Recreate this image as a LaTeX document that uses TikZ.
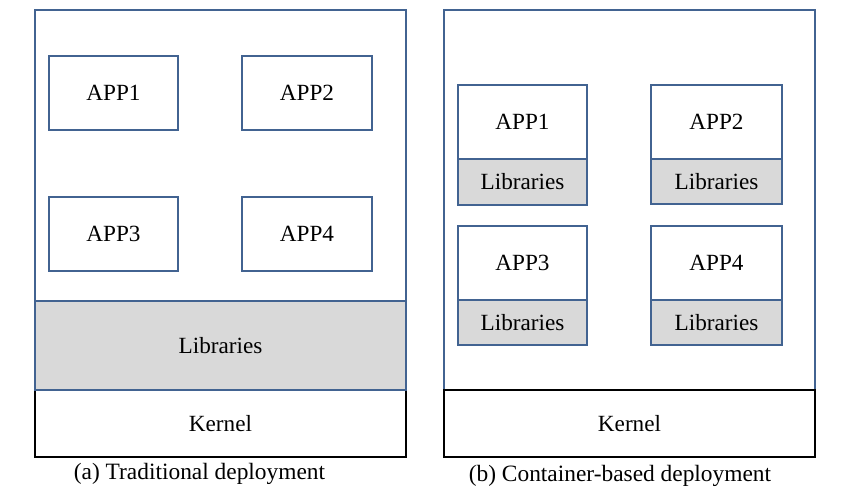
\documentclass[tikz,border=0pt]{standalone}
\usepackage{fontspec}
\setmainfont{Liberation Serif}
\definecolor{boxblue}{RGB}{66,99,145}
\definecolor{libgray}{RGB}{217,217,217}
\begin{document}
\begin{tikzpicture}[x=1pt,y=-1pt,
  outer/.style={draw=boxblue,line width=2.6pt,fill=white,inner sep=0pt},
  appbox/.style={draw=boxblue,line width=2.6pt,fill=white,inner sep=0pt,font=\fontsize{23.2}{25}\selectfont},
  libbox/.style={draw=boxblue,line width=2.6pt,fill=libgray,inner sep=0pt,font=\fontsize{23.2}{25}\selectfont},
  kernbox/.style={draw=black,line width=2.8pt,fill=white,inner sep=0pt,font=\fontsize{23.2}{25}\selectfont},
  caption/.style={inner sep=0pt,font=\fontsize{23.4}{25}\selectfont}]
\useasboundingbox (0,0) rectangle (850,498);
% ---------- (a) traditional ----------
\node[kernbox,minimum width=371pt,minimum height=67pt] (ka) at (220.5,423.5) {Kernel};
\node[outer,minimum width=371pt,minimum height=380pt] (oa) at (220.5,200) {};
\node[libbox,minimum width=371pt,minimum height=89pt] (la) at (220.5,345.5) {Libraries};
\node[appbox,minimum width=129pt,minimum height=74pt] (a1) at (113.5,93) {APP1};
\node[appbox,minimum width=130pt,minimum height=74pt] (a2) at (307,93) {APP2};
\node[appbox,minimum width=129pt,minimum height=74pt] (a3) at (113.5,234) {APP3};
\node[appbox,minimum width=130pt,minimum height=74pt] (a4) at (307,234) {APP4};
\node[caption] (capa) at (199.5,474) {(a) Traditional deployment};
% ---------- (b) container-based ----------
\node[outer,minimum width=371pt,minimum height=380pt] (ob) at (629.5,200) {};
\node[kernbox,minimum width=371pt,minimum height=67pt] (kb) at (629.5,423.5) {Kernel};
\node[appbox,minimum width=129pt,minimum height=74pt] (b1) at (522.5,122) {APP1};
\node[libbox,minimum width=129pt,minimum height=46pt] (l1) at (522.5,182) {Libraries};
\node[appbox,minimum width=131pt,minimum height=74pt] (b2) at (716.5,122) {APP2};
\node[libbox,minimum width=131pt,minimum height=45pt] (l2) at (716.5,181.5) {Libraries};
\node[appbox,minimum width=129pt,minimum height=74pt] (b3) at (522.5,263) {APP3};
\node[libbox,minimum width=129pt,minimum height=45pt] (l3) at (522.5,322.5) {Libraries};
\node[appbox,minimum width=131pt,minimum height=74pt] (b4) at (716.5,263) {APP4};
\node[libbox,minimum width=131pt,minimum height=45pt] (l4) at (716.5,322.5) {Libraries};
\node[caption] (capb) at (620,476) {(b) Container-based deployment};
\end{tikzpicture}
\end{document}
